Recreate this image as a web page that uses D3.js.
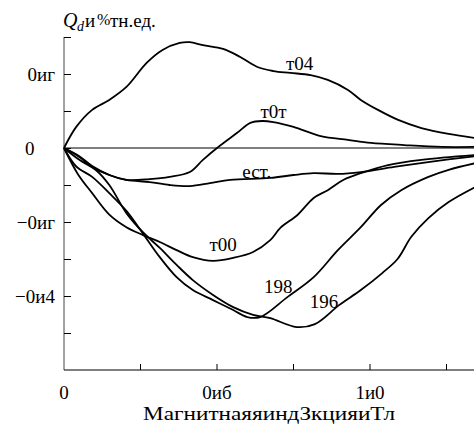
<!DOCTYPE html>
<html>
<head>
<meta charset="utf-8">
<script src="https://cdn.jsdelivr.net/npm/d3@7"></script>
</head>
<body style="margin:0">
<script>
// curves: [B, Qd]
const c04 = [[0,0],[0.04,0.057],[0.092,0.103],[0.148,0.13],[0.204,0.165],[0.27,0.23],[0.322,0.265],[0.378,0.284],[0.411,0.286],[0.454,0.278],[0.52,0.268],[0.576,0.246],[0.632,0.219],[0.684,0.208],[0.74,0.203],[0.806,0.197],[0.862,0.184],[0.928,0.157],[0.97,0.13],[1.026,0.103],[1.092,0.076],[1.168,0.054],[1.257,0.038],[1.345,0.027]]
const c0t = [[0,0],[0.05,-0.022],[0.092,-0.049],[0.148,-0.073],[0.204,-0.086],[0.28,-0.084],[0.345,-0.078],[0.411,-0.065],[0.454,-0.032],[0.5,0],[0.566,0.041],[0.609,0.068],[0.648,0.073],[0.684,0.07],[0.75,0.057],[0.839,0.032],[0.928,0.022],[1.003,0.014],[1.112,0.008],[1.234,0.003],[1.345,0.003]]
const cEst = [[0,0],[0.05,-0.024],[0.092,-0.051],[0.148,-0.073],[0.204,-0.086],[0.28,-0.092],[0.345,-0.1],[0.411,-0.103],[0.477,-0.095],[0.543,-0.086],[0.674,-0.081],[0.75,-0.073],[0.816,-0.068],[0.895,-0.07],[0.97,-0.065],[1.079,-0.051],[1.19,-0.038],[1.345,-0.022]]
const c00 = [[0,0],[0.045,-0.07],[0.092,-0.122],[0.148,-0.18],[0.204,-0.214],[0.257,-0.235],[0.313,-0.254],[0.368,-0.276],[0.421,-0.295],[0.487,-0.305],[0.553,-0.297],[0.618,-0.281],[0.674,-0.249],[0.707,-0.216],[0.763,-0.181],[0.816,-0.135],[0.862,-0.114],[0.914,-0.086],[0.97,-0.068],[1.059,-0.046],[1.168,-0.032],[1.345,-0.019]]
const c198 = [[0,0],[0.04,-0.05],[0.092,-0.078],[0.148,-0.122],[0.204,-0.17],[0.257,-0.23],[0.313,-0.295],[0.368,-0.349],[0.421,-0.384],[0.487,-0.411],[0.553,-0.438],[0.599,-0.457],[0.641,-0.457],[0.73,-0.403],[0.816,-0.349],[0.895,-0.276],[0.97,-0.214],[1.036,-0.154],[1.102,-0.114],[1.191,-0.078],[1.257,-0.059],[1.345,-0.041]]
const c196 = [[0,0],[0.05,-0.032],[0.105,-0.06],[0.148,-0.1],[0.204,-0.176],[0.257,-0.227],[0.313,-0.27],[0.368,-0.316],[0.421,-0.357],[0.487,-0.397],[0.553,-0.43],[0.618,-0.451],[0.674,-0.46],[0.76,-0.484],[0.82,-0.476],[0.9,-0.424],[0.97,-0.384],[1.04,-0.338],[1.09,-0.3],[1.135,-0.24],[1.19,-0.19],[1.257,-0.146],[1.345,-0.105]]

const curves = [c04, c0t, cEst, c00, c198, c196]
const curveNames = ["т04", "т0т", "ест.", "т00", "198", "196"]
// where each name sits, in data units
const labelPos = [[0.77, 0.21], [0.685, 0.081], [0.63, -0.08], [0.52, -0.279], [0.7, -0.393], [0.85, -0.433]]

const yTicks = [0.3, 0.2, 0.1, 0, -0.1, -0.2, -0.3, -0.4, -0.5]
const yLabels = {"0.2": "0иг", "-0.2": "−0иг", "-0.4": "−0и4"}
const xTicks = [0, 0.25, 0.5, 0.75, 1, 1.25]
const xLabels = {"0": "0", "0.5": "0иб", "1": "1и0"}

const width = 474, height = 430
const FONT = "Liberation Serif, serif"

const svg = d3.select("body").append("svg")
    .attr("width", width).attr("height", height)
    .attr("font-family", FONT)

const x = d3.scaleLinear().domain([0, 1.35]).range([64, 64 + 306 * 1.35])
const y = d3.scaleLinear().domain([-0.6, 0.3]).range([370, 37])

svg.append("clipPath").attr("id", "clip")
  .append("rect").attr("x", 63).attr("y", 30).attr("width", width - 63).attr("height", 340)

// zero line
svg.append("line")
    .attr("x1", x(0)).attr("x2", width)
    .attr("y1", y(0)).attr("y2", y(0))
    .attr("stroke", "#000").attr("stroke-width", 1)

// y axis, ticks point inward
const yAxis = d3.axisLeft(y).tickValues(yTicks).tickSizeInner(-7).tickSizeOuter(0)
    .tickFormat(d => yLabels[String(d)] || "")
const gy = svg.append("g").attr("transform", `translate(${x(0)},0)`).call(yAxis)
gy.attr("font-family", FONT).attr("font-size", 19)
gy.select(".domain").attr("d", `M0,${y(0.3)}V${y(-0.6)}`).attr("stroke", "#444")
gy.selectAll("line").attr("stroke", "#000")
gy.selectAll("text").attr("x", -9).attr("dy", "0.35em").attr("fill", "#000")
  .attr("font-family", FONT).attr("font-size", 19)

// the lone "0" sits further left than the other labels
svg.append("text")
    .attr("x", 25).attr("y", y(0)).attr("dy", "0.35em")
    .attr("font-family", FONT).attr("font-size", 19)
    .text("0")

// x axis
const gx = svg.append("g").attr("transform", `translate(0,${y(-0.6)})`)
gx.append("line").attr("x1", x(0)).attr("x2", width).attr("stroke", "#000")
gx.selectAll("line.t").data(xTicks.slice(1)).join("line").attr("class", "t")
    .attr("x1", d => x(d)).attr("x2", d => x(d)).attr("y1", 0).attr("y2", -6)
    .attr("stroke", "#000")
gx.selectAll("text").data(xTicks.filter(d => xLabels[String(d)])).join("text")
    .attr("x", d => x(d)).attr("y", 29)
    .attr("text-anchor", "middle")
    .attr("font-family", FONT).attr("font-size", 19)
    .text(d => xLabels[String(d)])

// curves
const line = d3.line().x(d => x(d[0])).y(d => y(d[1])).curve(d3.curveCatmullRom.alpha(0.5))
svg.append("g").attr("clip-path", "url(#clip)")
  .selectAll("path").data(curves).join("path")
    .attr("d", line)
    .attr("fill", "none").attr("stroke", "#000").attr("stroke-width", 1.8)

svg.append("g").selectAll("text").data(curveNames).join("text")
    .attr("x", (d, i) => x(labelPos[i][0]))
    .attr("y", (d, i) => y(labelPos[i][1]))
    .attr("text-anchor", "middle")
    .attr("font-family", FONT).attr("font-size", 19)
    .text(d => d)

// y title
const t = svg.append("g").attr("font-family", FONT)
t.append("text").attr("x", 63).attr("y", 27).attr("font-family", FONT).attr("font-size", 20).attr("font-style", "italic").text("Q")
t.append("text").attr("x", 77).attr("y", 31).attr("font-family", FONT).attr("font-size", 14).attr("font-style", "italic").text("d")
t.append("text").attr("x", 85).attr("y", 27).attr("font-family", FONT).attr("font-size", 19).text("и")
t.append("text").attr("x", 97).attr("y", 25).attr("font-family", FONT).attr("font-size", 16).text("%")
t.append("text").attr("x", 110).attr("y", 27).attr("font-family", FONT).attr("font-size", 19).text("тн.ед.")

// x title
svg.append("text").attr("x", 143).attr("y", 420)
    .attr("textLength", 252).attr("lengthAdjust", "spacingAndGlyphs")
    .attr("font-family", FONT).attr("font-size", 19)
    .text("МагнитнаяяиндЗкцияиТл")
</script>
</body>
</html>
